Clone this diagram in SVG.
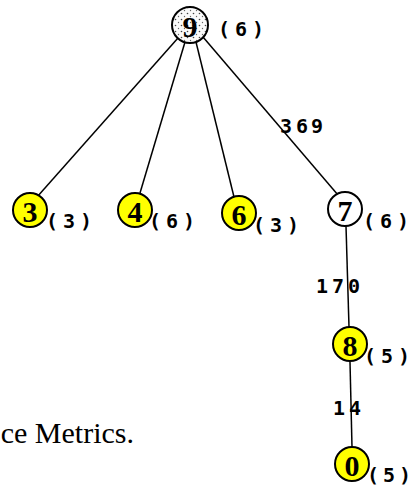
<svg xmlns="http://www.w3.org/2000/svg" width="413" height="486" viewBox="0 0 413 486">
<style>
.n{stroke:#000;stroke-width:2}
.y{fill:#ffff00}
.w{fill:#fff}
.t{font-family:"Liberation Serif",serif;font-weight:bold;font-size:30px;text-anchor:middle}
.c{font-family:"DejaVu Sans Mono",monospace;font-weight:bold;font-size:20px}
.e{stroke:#000;stroke-width:1.5;fill:none}
</style>
<defs>
<pattern id="dots" width="6" height="6" patternUnits="userSpaceOnUse">
<rect width="6" height="6" fill="#fafafa"/>
<circle cx="1.5" cy="1.5" r="0.8" fill="#444"/>
<circle cx="4.5" cy="4.5" r="0.7" fill="#666"/>
</pattern>
</defs>
<rect width="413" height="486" fill="#fff"/>
<g id="connectors">
<line class="e" x1="178" y1="38" x2="37" y2="197"/>
<line class="e" x1="185" y1="42" x2="140" y2="193"/>
<line class="e" x1="196" y1="42" x2="234" y2="197"/>
<line class="e" x1="203" y1="37" x2="338" y2="195"/>
<line class="e" x1="346" y1="226" x2="349" y2="327"/>
<line class="e" x1="350" y1="362" x2="352" y2="447"/>
<text class="c" x="280 296 311" y="133">369</text>
<text class="c" x="316 332 348" y="293">170</text>
<text class="c" x="333 349" y="415">14</text>
</g>
<g id="node9">
<circle class="n" cx="190" cy="25" r="18" fill="url(#dots)"/>
<text class="t" x="190" y="37">9</text>
<text class="c" x="218 235 252" y="36">(6)</text>
</g>
<g id="node3">
<circle class="n y" cx="30" cy="210" r="17"/>
<text class="t" x="30" y="222">3</text>
<text class="c" x="46 63 80" y="228">(3)</text>
</g>
<g id="node4">
<circle class="n y" cx="135" cy="210" r="17"/>
<text class="t" x="135" y="222">4</text>
<text class="c" x="149 166 183" y="228">(6)</text>
</g>
<g id="node6">
<circle class="n y" cx="239" cy="213" r="17"/>
<text class="t" x="239" y="225">6</text>
<text class="c" x="253 270 287" y="232">(3)</text>
</g>
<g id="node7">
<circle class="n w" cx="345" cy="209" r="17"/>
<text class="t" x="345" y="221">7</text>
<text class="c" x="363 380 397" y="228">(6)</text>
</g>
<g id="node8">
<circle class="n y" cx="350" cy="344" r="17"/>
<text class="t" x="350" y="356">8</text>
<text class="c" x="364 381 398" y="363">(5)</text>
</g>
<g id="node0">
<circle class="n y" cx="352" cy="464" r="17"/>
<text class="t" x="352" y="476">0</text>
<text class="c" x="367 383 399" y="482">(5)</text>
</g>
<text x="134" y="443" font-family="Liberation Serif,serif" font-size="30" text-anchor="end">ce Metrics.</text>
</svg>
